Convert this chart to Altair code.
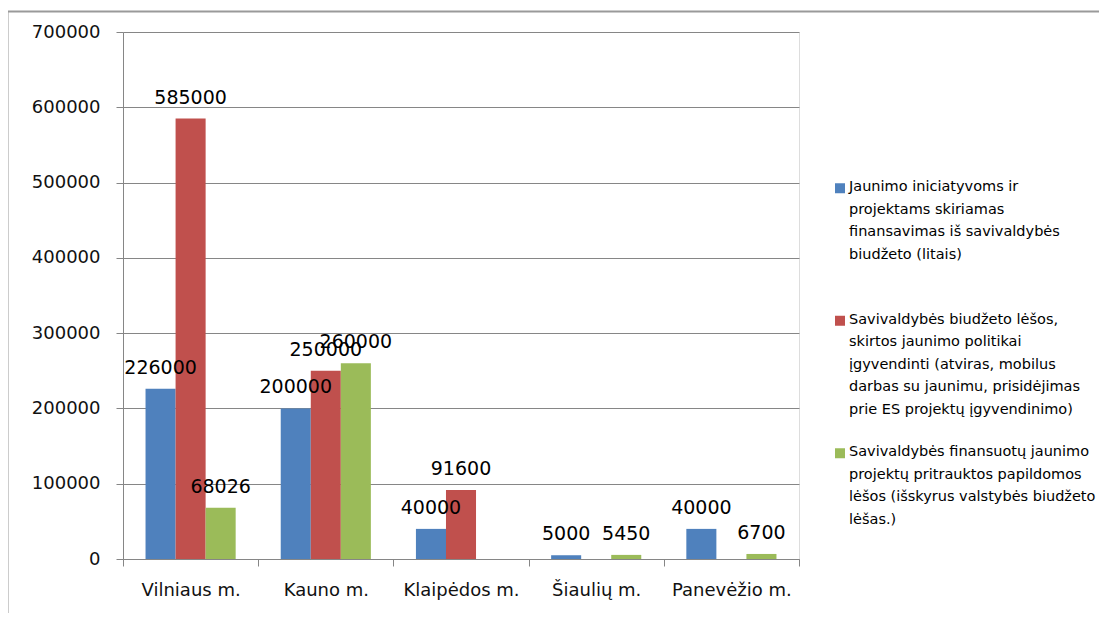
import altair as alt
import pandas as pd

cities = ["Vilniaus m.", "Kauno m.", "Klaipėdos m.", "Šiaulių m.", "Panevėžio m."]

series = [
    "Jaunimo iniciatyvoms ir\nprojektams skiriamas\nfinansavimas iš savivaldybės\nbiudžeto (litais)",
    "Savivaldybės biudžeto lėšos,\nskirtos jaunimo politikai\nįgyvendinti (atviras, mobilus\ndarbas su jaunimu, prisidėjimas\nprie ES projektų įgyvendinimo)",
    "Savivaldybės finansuotų jaunimo\nprojektų pritrauktos papildomos\nlėšos (išskyrus valstybės biudžeto\nlėšas.)",
]

blue_vals = [226000, 200000, 40000, 5000, 40000]
red_vals = [585000, 250000, 91600, None, None]
green_vals = [68026, 260000, None, 5450, 6700]

colors = ["#4F81BD", "#C0504D", "#9BBB59"]
y_ticks = [0, 100000, 200000, 300000, 400000, 500000, 600000, 700000]

rows = []
for s, vals in zip(series, [blue_vals, red_vals, green_vals]):
    for c, v in zip(cities, vals):
        if v is not None:
            rows.append({"city": c, "series": s, "value": v})
df = pd.DataFrame(rows)
legend_df = pd.DataFrame({"series": series})

FONT = "DejaVu Sans"
W, H = 676, 527

x_enc = alt.X(
    "city:N",
    sort=cities,
    scale=alt.Scale(paddingInner=0, paddingOuter=0),
    axis=alt.Axis(
        title=None, labelAngle=0, tickBand="extent", tickSize=7,
        labelPadding=15, labelFontSize=18, labelFont=FONT, labelColor="#111",
        domainColor="#868686", tickColor="#868686", grid=False,
    ),
)
xoff = alt.XOffset("series:N", sort=series,
                   scale=alt.Scale(paddingOuter=0.75, paddingInner=0))
y_enc = alt.Y(
    "value:Q",
    scale=alt.Scale(domain=[0, 700000], nice=False),
    axis=alt.Axis(
        title=None, values=y_ticks, format="d", tickSize=7, labelPadding=16,
        labelFontSize=18, labelFont=FONT, labelColor="#111",
        domainColor="#868686", tickColor="#868686", gridColor="#868686",
        grid=True,
    ),
)
color_enc = alt.Color("series:N", sort=series,
                      scale=alt.Scale(domain=series, range=colors), legend=None)

base = alt.Chart(df)
bars = base.mark_bar().encode(x=x_enc, xOffset=xoff, y=y_enc, color=color_enc)
labels = base.mark_text(baseline="alphabetic", dy=-15, fontSize=19, font=FONT,
                        color="#000").encode(
    x=alt.X("city:N", sort=cities), xOffset=xoff, y="value:Q",
    text=alt.Text("value:Q", format="d"),
)

# legend rows: band scale, one band per series
ly = alt.Y("series:N", sort=series,
           scale=alt.Scale(type="band", domain=series, paddingInner=0,
                           paddingOuter=0.4887, align=0.695),
           axis=None)
leg_sym = alt.Chart(legend_df).mark_square(size=100, opacity=1).encode(
    x=alt.value(717), y=ly,
    color=alt.Color("series:N", scale=alt.Scale(domain=series, range=colors),
                    legend=None),
)
leg_txt = alt.Chart(legend_df).mark_text(
    align="left", baseline="top", dy=-8, fontSize=14.5, font=FONT,
    color="#000", lineBreak="\n", lineHeight=22.5,
).encode(x=alt.value(726), y=ly, text="series:N")

frame_top = alt.Chart(alt.Data(values=[{}])).mark_rule(
    color="#9a9a9a", strokeWidth=2).encode(
    x=alt.value(-116), x2=alt.value(990), y=alt.value(-20.5))
frame_left = alt.Chart(alt.Data(values=[{}])).mark_rule(
    color="#9a9a9a", strokeWidth=2).encode(
    x=alt.value(-115.5), y=alt.value(-21), y2=alt.value(600))

main = alt.layer(bars, labels)
legend = alt.layer(leg_sym, leg_txt)

chart = alt.layer(main, legend, frame_top, frame_left).resolve_scale(
    y="independent", color="independent"
).properties(
    width=W, height=H,
    autosize=alt.AutoSizeParams(type="none"),
    padding={"left": 115, "top": 24, "right": 300, "bottom": 54},
).configure_view(stroke=None).configure(background="white")

chart.save("out.html", embed_options={"renderer": "svg", "actions": False})
